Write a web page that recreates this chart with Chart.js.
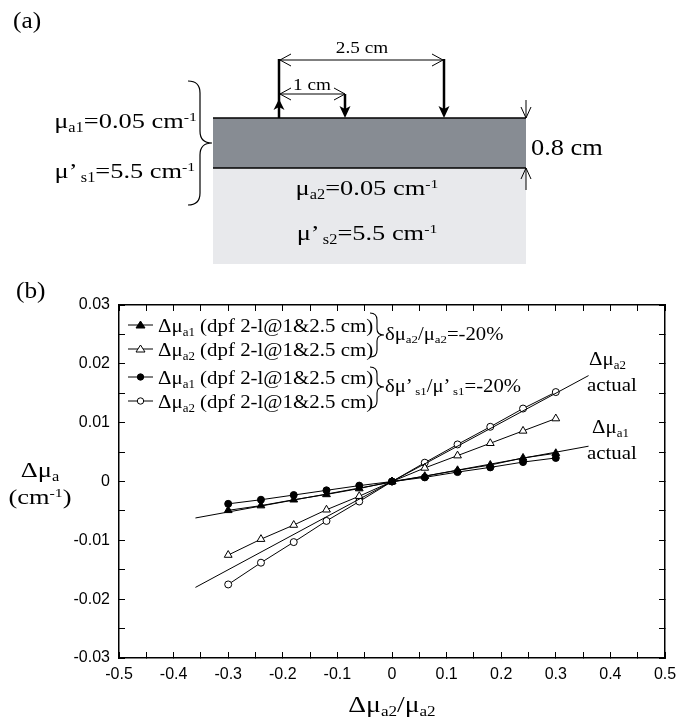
<!DOCTYPE html>
<html><head><meta charset="utf-8">
<script src="https://cdn.jsdelivr.net/npm/chart.js@4.4.1/dist/chart.umd.min.js"></script>
<style>
html,body{margin:0;padding:0;background:#fff;}
#wrap{position:relative;width:677px;height:722px;overflow:hidden;background:#fff;}
#c{position:absolute;left:0;top:0;}
svg.ov{position:absolute;left:0;top:0;pointer-events:none;}
.t{position:absolute;font-family:'Liberation Serif','Times New Roman',serif;line-height:1;white-space:nowrap;color:#000;transform:scaleX(1.2);transform-origin:left top;}
.t sub{font-size:0.62em;vertical-align:-0.3em;line-height:0;}
.t sup{font-size:0.6em;vertical-align:0.5em;line-height:0;}
.c{text-align:center;transform-origin:center top;width:300px;}
.r{text-align:right;transform-origin:right top;}
</style></head>
<body><div id="wrap">
<canvas id="c" width="677" height="722"></canvas>
<svg class="ov" width="677" height="722">
  <!-- schematic (a) -->
  <rect x="213" y="118" width="313" height="50" fill="#878c93"/>
  <rect x="213" y="168" width="313" height="96" fill="#e8e9ec"/>
  <line x1="213" y1="118" x2="526" y2="118" stroke="#000" stroke-width="1.5"/>
  <line x1="213" y1="168" x2="526" y2="168" stroke="#000" stroke-width="1.5"/>
  <line x1="279" y1="59" x2="279" y2="118" stroke="#000" stroke-width="2.5"/>
  <path d="M279,99 L284.5,110 L279,107 L273.5,110 Z" fill="#000"/>
  <line x1="345" y1="94" x2="345" y2="110" stroke="#000" stroke-width="2.5"/>
  <path d="M345,118 L339.5,106 L345,109 L350.5,106 Z" fill="#000"/>
  <line x1="444" y1="59" x2="444" y2="110" stroke="#000" stroke-width="2.5"/>
  <path d="M444,118 L438.5,106 L444,109 L449.5,106 Z" fill="#000"/>
  <g fill="none" stroke="#000" stroke-width="1">
    <line x1="280" y1="60" x2="443" y2="60"/>
    <polyline points="291,54 280,60 291,66"/>
    <polyline points="432,54 443,60 432,66"/>
    <line x1="280" y1="94" x2="345" y2="94"/>
    <polyline points="291,88 280,94 291,100"/>
    <polyline points="334,88 345,94 334,100"/>
    <line x1="526" y1="100" x2="526" y2="118"/>
    <polyline points="521,107 526,118 531,107"/>
    <line x1="526" y1="168" x2="526" y2="190"/>
    <polyline points="521,179 526,168 531,179"/>
  </g>
  <path d="M188,81 Q200,81 200,93 L200,131 Q200,143 212,143 Q200,143 200,155 L200,193 Q200,205 188,205" fill="none" stroke="#000" stroke-width="1.2"/>
  <!-- legend braces -->
  <path d="M370,313 Q377,313 377,320 L377,329 Q377,335 384,335 Q377,335 377,341 L377,350 Q377,357 370,357" fill="none" stroke="#000" stroke-width="1.1"/>
  <path d="M370,367 Q377,367 377,374 L377,381 Q377,387 384,387 Q377,387 377,393 L377,401 Q377,408 370,408" fill="none" stroke="#000" stroke-width="1.1"/>
  <!-- legend markers -->
  <g stroke="#000" stroke-width="1">
    <line x1="128" y1="325" x2="153" y2="325"/>
    <polygon points="140.5,321 136,328 145,328" fill="#000"/>
    <line x1="128" y1="349" x2="153" y2="349"/>
    <polygon points="140.5,345 136,352 145,352" fill="#fff"/>
    <line x1="128" y1="377" x2="153" y2="377"/>
    <circle cx="140.5" cy="377" r="3.2" fill="#000"/>
    <line x1="128" y1="401" x2="153" y2="401"/>
    <circle cx="140.5" cy="401" r="3.2" fill="#fff"/>
  </g>
</svg>

<div class="t" style="left:13px;top:9px;font-size:23px;transform:scaleX(1.1);">(a)</div>
<div class="t c" style="left:212px;top:40px;font-size:16px;">2.5 cm</div>
<div class="t c" style="left:162px;top:77px;font-size:16px;">1 cm</div>
<div class="t" style="left:531px;top:135px;font-size:24px;transform:scaleX(1.1);">0.8 cm</div>
<div class="t r" style="right:480px;top:110px;font-size:22px;">μ<sub>a1</sub>=0.05 cm<sup>-1</sup></div>
<div class="t r" style="right:482px;top:160px;font-size:22px;">μ’<sub>&#8201;s1</sub>=5.5 cm<sup>-1</sup></div>
<div class="t c" style="left:217px;top:177px;font-size:22px;">μ<sub>a2</sub>=0.05 cm<sup>-1</sup></div>
<div class="t c" style="left:217px;top:222px;font-size:22px;">μ’<sub>&#8201;s2</sub>=5.5 cm<sup>-1</sup></div>

<div class="t" style="left:16px;top:279px;font-size:23px;transform:scaleX(1.1);">(b)</div>
<div id="legend"></div>
<div class="t" style="left:385px;top:325px;font-size:18px;transform:scaleX(1.15);">δμ<sub>a2</sub>/μ<sub>a2</sub>=-20%</div>
<div class="t" style="left:385px;top:377px;font-size:18px;transform:scaleX(1.15);">δμ’<sub>&#8201;s1</sub>/μ’<sub>&#8201;s1</sub>=-20%</div>
<div class="t" style="left:589px;top:349px;font-size:19px;transform:scaleX(1.1);">Δμ<sub>a2</sub></div>
<div class="t" style="left:587px;top:375px;font-size:19px;transform:scaleX(1.1);">actual</div>
<div class="t" style="left:592px;top:417px;font-size:19px;transform:scaleX(1.1);">Δμ<sub>a1</sub></div>
<div class="t" style="left:587px;top:443px;font-size:19px;transform:scaleX(1.1);">actual</div>
<div class="t c" style="left:242px;top:692px;font-size:24px;transform:scaleX(1.15);">Δμ<sub>a2</sub>/μ<sub>a2</sub></div>
<div class="t c" style="left:-110px;top:459px;font-size:22px;">Δμ<sub>a</sub></div>
<div class="t c" style="left:-110px;top:486px;font-size:22px;">(cm<sup>-1</sup>)</div>
</div>
<script>
// ---- data ----
const xValues = [-0.3, -0.24, -0.18, -0.12, -0.06, 0, 0.06, 0.12, 0.18, 0.24, 0.3];
const dMua1_varMua2 = [-0.0049, -0.0041, -0.0031, -0.0022, -0.0012, 0, 0.0009, 0.0019, 0.0028, 0.0040, 0.0048];
const dMua2_varMua2 = [-0.0125, -0.0098, -0.0074, -0.0048, -0.0025, 0, 0.0023, 0.0044, 0.0065, 0.0086, 0.0107];
const dMua1_varMus1 = [-0.0038, -0.0031, -0.0023, -0.0015, -0.0007, 0, 0.0007, 0.0016, 0.0024, 0.0033, 0.0040];
const dMua2_varMus1 = [-0.0175, -0.0138, -0.0103, -0.0067, -0.0034, 0, 0.0032, 0.0063, 0.0093, 0.0124, 0.0152];
const actualX = [-0.36, 0.36];
const actualMua2 = [-0.018, 0.018];
const actualMua1 = [-0.0062, 0.0060];
const xTickLabels = ['-0.5','-0.4','-0.3','-0.2','-0.1','0','0.1','0.2','0.3','0.4','0.5'];
const yTickLabels = ['-0.03','-0.02','-0.01','0','0.01','0.02','0.03'];
const seriesSubs = ['a1','a2','a1','a2'];
const seriesSuffix = ' (dpf 2-l@1&2.5 cm)';

// HTML legend text
const legendTops = [316, 340, 368, 392];
const lg = document.getElementById('legend');
seriesSubs.forEach((s, i) => {
  const d = document.createElement('div');
  d.className = 't';
  d.style.cssText = 'left:158px;top:' + legendTops[i] + 'px;font-size:19px;transform:scaleX(1.1);';
  d.innerHTML = 'Δμ<sub>' + s + '</sub>';
  d.appendChild(document.createTextNode(seriesSuffix));
  lg.appendChild(d);
});

function pts(xs, ys) { return xs.map((x, i) => ({x: x, y: ys[i]})); }
function series(ys, style, fill, r) {
  return {data: pts(xValues, ys), showLine: true, borderColor: '#000', borderWidth: 1,
    pointStyle: style, pointRadius: r, pointBackgroundColor: fill, pointBorderColor: '#000',
    pointBorderWidth: 1, tension: 0};
}
const fmtX = v => String(Math.round(v * 100) / 100);
const fmtY = v => String(Math.round(v * 1000) / 1000);
const tickFont = {family: "'Liberation Sans', Arial, sans-serif", size: 16};
const grid = {drawOnChartArea: false, color: '#000', lineWidth: 1, tickLength: -6, drawTicks: true};
const border = {display: true, color: '#000', width: 1.5};
const noPadH = s => { s.paddingLeft = 0; s.paddingRight = 0; };
const noPadV = s => { s.paddingTop = 0; s.paddingBottom = 0; };

new Chart(document.getElementById('c'), {
  type: 'scatter',
  data: {datasets: [
    {data: pts(actualX, actualMua2), showLine: true, borderColor: '#000', borderWidth: 1, pointRadius: 0},
    {data: pts(actualX, actualMua1), showLine: true, borderColor: '#000', borderWidth: 1, pointRadius: 0},
    series(dMua1_varMua2, 'triangle', '#000', 4.5),
    series(dMua2_varMua2, 'triangle', '#fff', 4.5),
    series(dMua1_varMus1, 'circle', '#000', 3.5),
    series(dMua2_varMus1, 'circle', '#fff', 3.5)
  ]},
  options: {
    responsive: false, animation: false, devicePixelRatio: 1,
    layout: {padding: {left: 59, right: 11, top: 304, bottom: 34}},
    plugins: {legend: {display: false}, tooltip: {enabled: false}},
    scales: {
      x: {type: 'linear', position: 'bottom', min: -0.5, max: 0.5,
        ticks: {stepSize: 0.05, autoSkip: false, maxRotation: 0, color: '#000', font: tickFont, padding: 13,
          callback: v => { const s = fmtX(v); return xTickLabels.includes(s) ? s : ''; }},
        grid: grid, border: border, afterFit: s => { s.height = 30; noPadH(s); }},
      x2: {type: 'linear', axis: 'x', position: 'top', display: true, min: -0.5, max: 0.5,
        ticks: {stepSize: 0.05, autoSkip: false, display: false},
        grid: grid, border: border, afterFit: s => { s.height = 1; noPadH(s); }},
      y: {type: 'linear', position: 'left', min: -0.03, max: 0.03,
        ticks: {stepSize: 0.005, autoSkip: false, color: '#000', font: tickFont, padding: 15,
          callback: v => { const s = fmtY(v); return yTickLabels.includes(s) ? s : ''; }},
        grid: grid, border: border, afterFit: s => { s.width = 60; noPadV(s); }},
      y2: {type: 'linear', axis: 'y', position: 'right', display: true, min: -0.03, max: 0.03,
        ticks: {stepSize: 0.005, autoSkip: false, display: false},
        grid: grid, border: border, afterFit: s => { s.width = 1; noPadV(s); }}
    }
  }
});
</script>
</body></html>
